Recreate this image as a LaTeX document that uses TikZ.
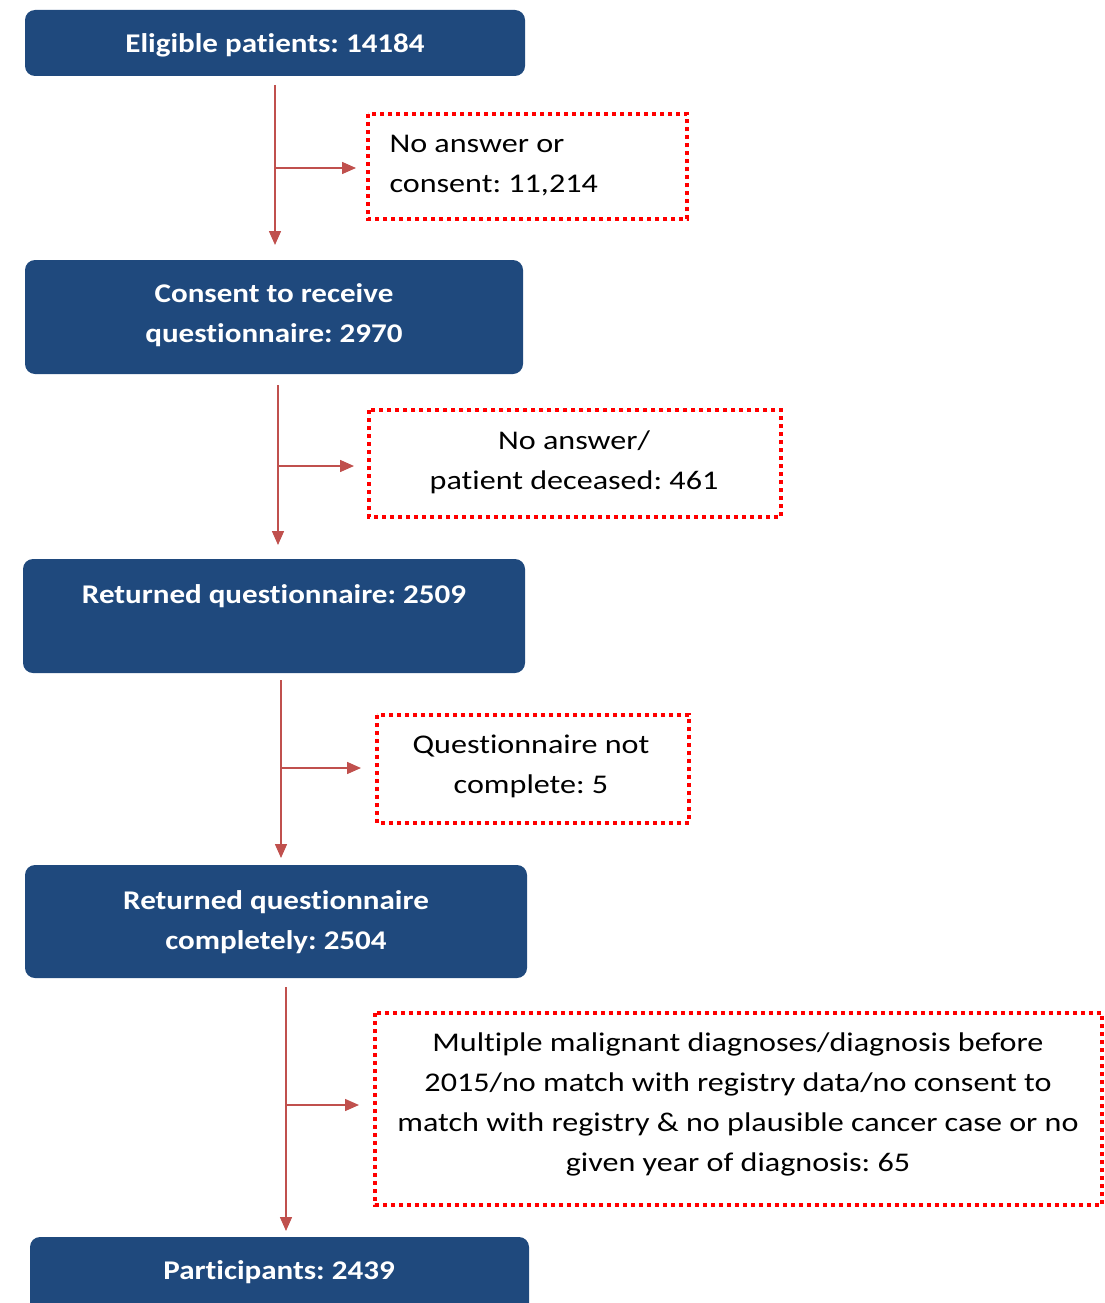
\documentclass[tikz,border=0pt]{standalone}
\usepackage{fontspec}
\setmainfont{Carlito}
\newfontfamily\wideface[FakeStretch=1.19,Ligatures=NoCommon]{Carlito}
\newfontfamily\widebold[FakeStretch=1.15,UprightFont=* Bold,Ligatures=NoCommon]{Carlito}
\usetikzlibrary{arrows.meta}
\definecolor{boxblue}{HTML}{1F497D}
\definecolor{arrred}{HTML}{C0504D}
\definecolor{dotred}{HTML}{FF0000}
\frenchspacing
\begin{document}
\begin{tikzpicture}[x=1pt,y=-1pt,
  bluefill/.style={fill=boxblue,rounded corners=10pt},
  bluetext/.style={text=white,font=\widebold\fontsize{27}{40}\selectfont,align=center},
  dotframe/.style={draw=dotred,line width=4pt,dash pattern=on 4pt off 4pt},
  dottext/.style={font=\wideface\fontsize{27}{40}\selectfont,align=center},
  arr/.style={draw=arrred,line width=1.5pt,-{Triangle[length=14pt,width=12pt]}}]
\useasboundingbox (0,0) rectangle (1104,1303);
% blue boxes
\fill[bluefill] (25,10) rectangle (525,76);
\node[bluetext] (b1) at (275,45) {Eligible patients: 14184};
\fill[bluefill] (25,260) rectangle (523,374);
\node[bluetext] (b2) at (274,315) {Consent to receive\\questionnaire: 2970};
\fill[bluefill] (23,559) rectangle (525,673);
\node[bluetext] (b3) at (274,596) {Returned questionnaire: 2509};
\fill[bluefill] (25,865) rectangle (527,978);
\node[bluetext] (b4) at (276,922) {Returned questionnaire\\completely: 2504};
\fill[bluefill] (30,1237) rectangle (529,1330);
\node[bluetext] (b5) at (279,1272) {Participants: 2439};
% dotted boxes
\draw[dotframe] (368,114) rectangle (687,219);
\node[dottext,align=left,anchor=west] (d1) at (386,166) {No answer or\\consent: 11,214};
\draw[dotframe] (369,410) rectangle (781,517);
\node[dottext] (d2) at (574,462) {No answer/\\patient deceased: 461};
\draw[dotframe] (377,715) rectangle (689,823);
\node[dottext] (d3) at (531,766) {Questionnaire not\\complete: 5};
\draw[dotframe] (375,1013) rectangle (1102,1205);
\node[dottext] (d4) at (738,1104) {Multiple malignant diagnoses/diagnosis before\\2015/no match with registry data/no consent to\\match with registry \& no plausible cancer case or no\\given year of diagnosis: 65};
% connectors
\coordinate (s1) at (275,85); \coordinate (e1) at (275,245); \coordinate (j1) at (275,168); \coordinate (t1) at (356,168);
\coordinate (s2) at (278,385); \coordinate (e2) at (278,545); \coordinate (j2) at (278,466); \coordinate (t2) at (354,466);
\coordinate (s3) at (281,680); \coordinate (e3) at (281,858); \coordinate (j3) at (281,768); \coordinate (t3) at (361,768);
\coordinate (s4) at (286,987); \coordinate (e4) at (286,1231); \coordinate (j4) at (286,1105); \coordinate (t4) at (359,1105);
\draw[arr] (s1) -- (e1); \draw[arr] (j1) -- (t1);
\draw[arr] (s2) -- (e2); \draw[arr] (j2) -- (t2);
\draw[arr] (s3) -- (e3); \draw[arr] (j3) -- (t3);
\draw[arr] (s4) -- (e4); \draw[arr] (j4) -- (t4);
\end{tikzpicture}
\end{document}
